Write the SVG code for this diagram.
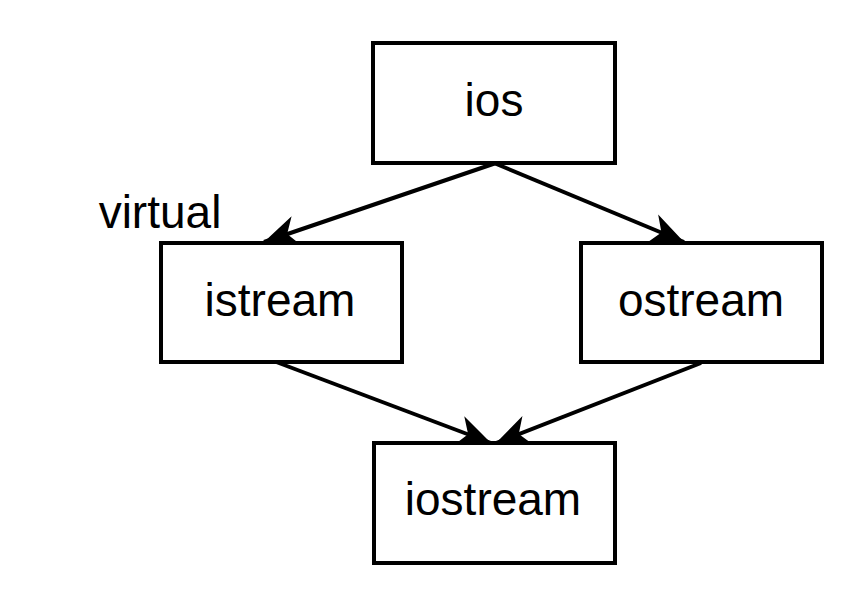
<svg xmlns="http://www.w3.org/2000/svg" width="864" height="604" viewBox="0 0 864 604">
<style>
.box{fill:#fff;stroke:#000;stroke-width:4}
.lbl{font-family:"Liberation Sans",Arial,sans-serif;font-size:46px;fill:#000;text-anchor:middle}
.edge{stroke:#000;stroke-width:4;fill:none;marker-end:url(#arr)}
</style>
<defs>
<marker id="arr" markerUnits="userSpaceOnUse" markerWidth="40" markerHeight="40" viewBox="-34 -17 36 34" refX="0" refY="0" orient="auto">
<path d="M0,0 L-31,-14 L-22,0 L-31,14 Z" fill="#000"/>
</marker>
</defs>
<rect width="864" height="604" fill="#fff"/>
<g id="connectors">
<line class="edge" x1="496" y1="163" x2="264" y2="242"/>
<line class="edge" x1="494" y1="163" x2="684" y2="242"/>
<line class="edge" x1="263" y1="357" x2="491" y2="443"/>
<line class="edge" x1="701" y1="363" x2="496" y2="443"/>
</g>
<g id="ios"><rect class="box" x="373" y="43" width="242" height="120"/><text class="lbl" x="494" y="116">ios</text></g>
<g id="istream"><rect class="box" x="161" y="243" width="241" height="119"/><text class="lbl" x="280" y="316">istream</text></g>
<g id="ostream"><rect class="box" x="581" y="243" width="241" height="119"/><text class="lbl" x="701" y="316">ostream</text></g>
<g id="iostream"><rect class="box" x="374" y="443" width="241" height="120"/><text class="lbl" x="493" y="515">iostream</text></g>
<g id="virtual"><text class="lbl" x="160" y="228">virtual</text></g>
</svg>
